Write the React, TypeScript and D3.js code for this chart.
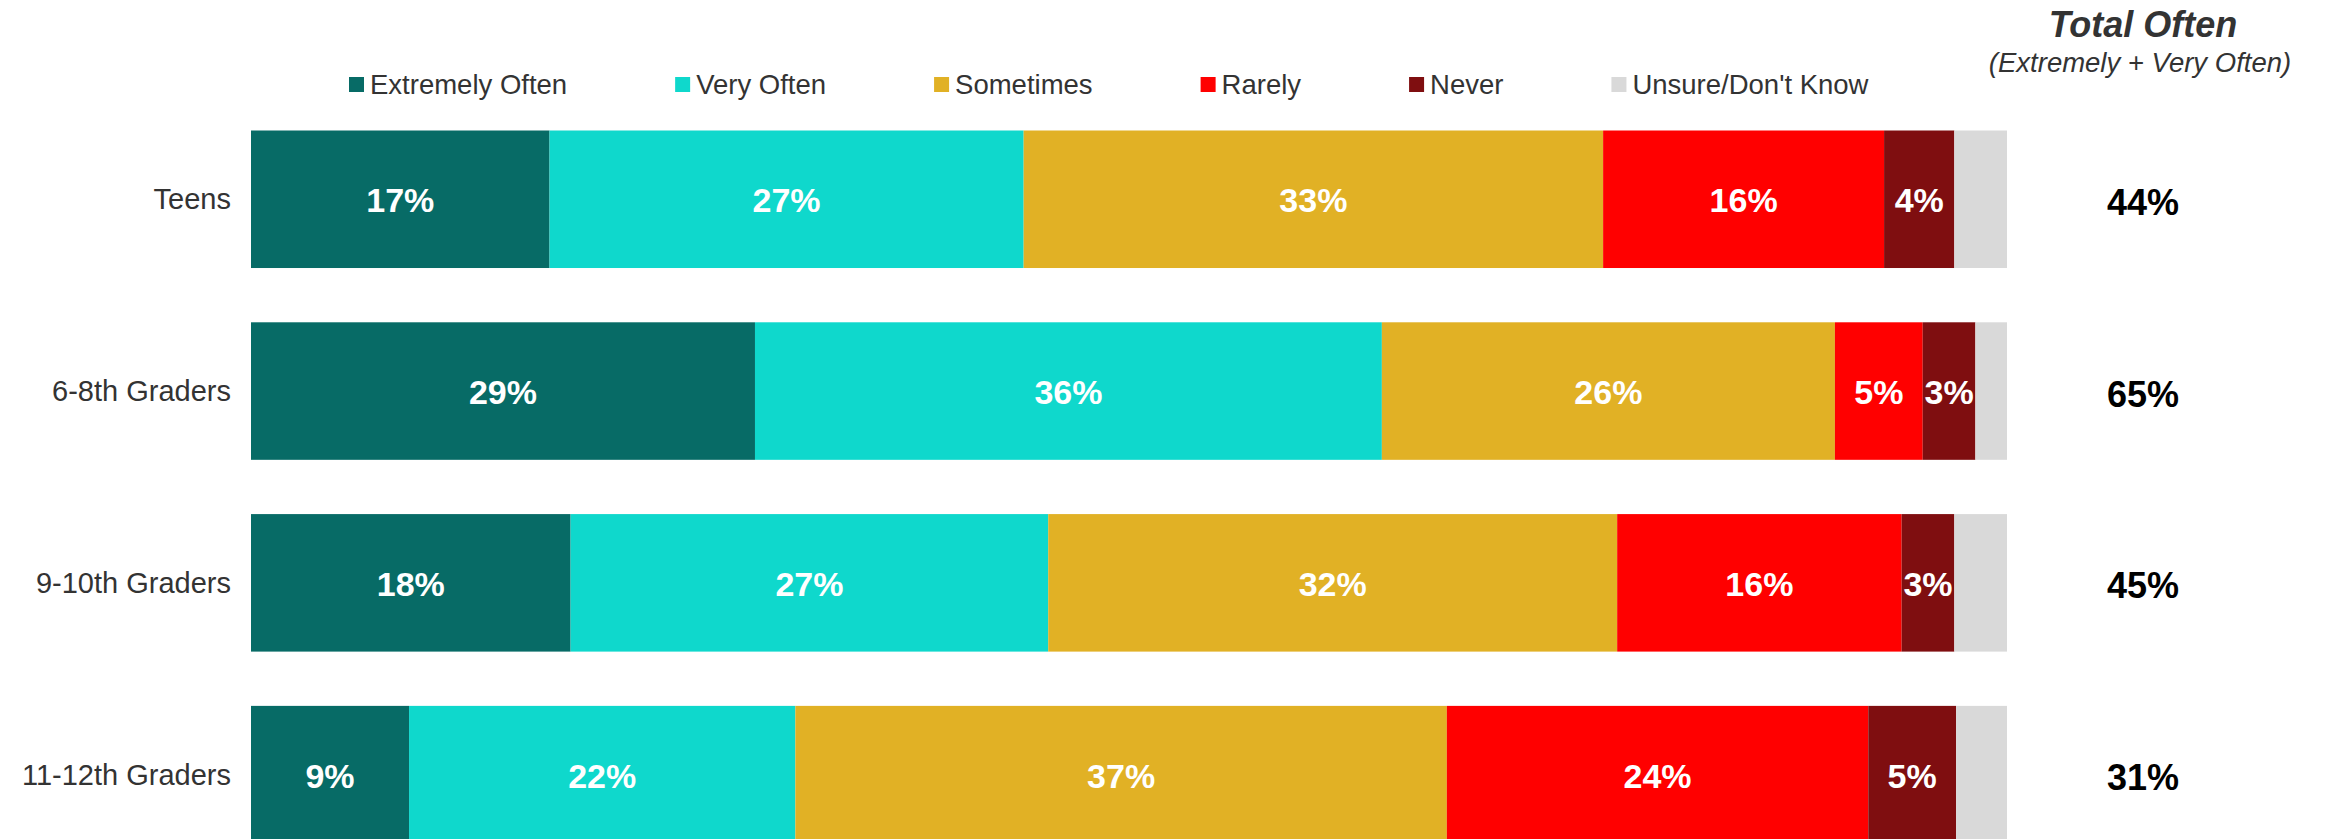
import React from "react";
import * as d3 from "d3";

const categories = ["Teens", "6-8th Graders", "9-10th Graders", "11-12th Graders"];
const seriesNames = ["Extremely Often", "Very Often", "Sometimes", "Rarely", "Never", "Unsure/Don't Know"];
const seriesColors = ["#076B66", "#0FD8CC", "#E1B125", "#FF0000", "#7F0E10", "#D9D9D9"];

const extremelyOften = [17.0, 28.7, 18.2, 9.0];
const veryOften = [27.0, 35.7, 27.2, 22.0];
const sometimes = [33.0, 25.8, 32.4, 37.1];
const rarely = [16.0, 5.0, 16.2, 24.0];
const never = [4.0, 3.0, 3.0, 5.0];
const unsure = [3.0, 1.8, 3.0, 2.9];
const totalOften = ["44%", "65%", "45%", "31%"];
const valueLabels = [
  ["17%", "29%", "18%", "9%"],
  ["27%", "36%", "27%", "22%"],
  ["33%", "26%", "32%", "37%"],
  ["16%", "5%", "16%", "24%"],
  ["4%", "3%", "3%", "5%"],
  ["", "", "", ""],
];

const W = 2326;
const H = 839;
const FONT = "'Liberation Sans', Arial, Helvetica, sans-serif";

function measure(text: string, font: string): number {
  if (typeof document === "undefined") return text.length * 14;
  const c = document.createElement("canvas");
  const ctx = c.getContext("2d");
  if (!ctx) return text.length * 14;
  ctx.font = font;
  return ctx.measureText(text).width;
}

export default function App() {
  const series = [extremelyOften, veryOften, sometimes, rarely, never, unsure];
  const rows = categories.map((cat, i) => {
    const o: any = { cat };
    seriesNames.forEach((s, j) => (o[s] = series[j][i]));
    return o;
  });
  const stack = d3.stack<any>().keys(seriesNames)(rows);

  const x = d3.scaleLinear().domain([0, 100]).range([251, 2007]);
  const y = d3
    .scaleBand<string>()
    .domain(categories)
    .range([130.5, 843.4])
    .paddingInner(0.283)
    .paddingOuter(0);

  const legendFontSize = 27.5;
  const legendFont = `${legendFontSize}px ${FONT}`;
  const legendItems: { name: string; color: string; x: number }[] = [];
  let lx = 349;
  seriesNames.forEach((name, i) => {
    legendItems.push({ name, color: seriesColors[i], x: lx });
    lx += 15 + 6 + measure(name, legendFont) + 108;
  });

  const totalX = 2143;

  return (
    <svg
      width={W}
      height={H}
      style={{ position: "absolute", left: 0, top: 0, background: "#fff" }}
      fontFamily={FONT}
    >
      <rect x={0} y={0} width={W} height={H} fill="#ffffff" />
      {/* Legend */}
      <g>
        {legendItems.map((it) => (
          <g key={it.name}>
            <rect x={it.x} y={77} width={15} height={15} fill={it.color} />
            <text
              x={it.x + 21}
              y={84.5}
              dominantBaseline="central"
              fontSize={legendFontSize}
              fill="#333333"
            >
              {it.name}
            </text>
          </g>
        ))}
      </g>
      {/* Total Often header */}
      <text
        x={totalX}
        y={37}
        textAnchor="middle"
        fontSize={36}
        fontWeight="bold"
        fontStyle="italic"
        fill="#333333"
      >
        Total Often
      </text>
      <text x={2140} y={72} textAnchor="middle" fontSize={27.5} fontStyle="italic" fill="#333333">
        (Extremely + Very Often)
      </text>
      {/* Bars */}
      {stack.map((layer, j) => (
        <g key={layer.key} fill={seriesColors[j]}>
          {layer.map((d, i) => (
            <rect
              key={i}
              x={x(d[0])}
              y={y(categories[i])}
              width={x(d[1]) - x(d[0])}
              height={y.bandwidth()}
            />
          ))}
        </g>
      ))}
      {/* Value labels */}
      {stack.map((layer, j) => (
        <g key={"l" + layer.key}>
          {layer.map((d, i) =>
            valueLabels[j][i] ? (
              <text
                key={i}
                x={(x(d[0]) + x(d[1])) / 2}
                y={(y(categories[i]) as number) + y.bandwidth() / 2 + 1}
                textAnchor="middle"
                dominantBaseline="central"
                fontSize={34}
                fontWeight="bold"
                fill="#ffffff"
              >
                {valueLabels[j][i]}
              </text>
            ) : null
          )}
        </g>
      ))}
      {/* Category labels */}
      {categories.map((c) => (
        <text
          key={c}
          x={231}
          y={(y(c) as number) + y.bandwidth() / 2}
          textAnchor="end"
          dominantBaseline="central"
          fontSize={29}
          fill="#333333"
        >
          {c}
        </text>
      ))}
      {/* Total often values */}
      {categories.map((c, i) => (
        <text
          key={"t" + c}
          x={totalX}
          y={(y(c) as number) + y.bandwidth() / 2 + 3}
          textAnchor="middle"
          dominantBaseline="central"
          fontSize={36}
          fontWeight="bold"
          fill="#000000"
        >
          {totalOften[i]}
        </text>
      ))}
    </svg>
  );
}
